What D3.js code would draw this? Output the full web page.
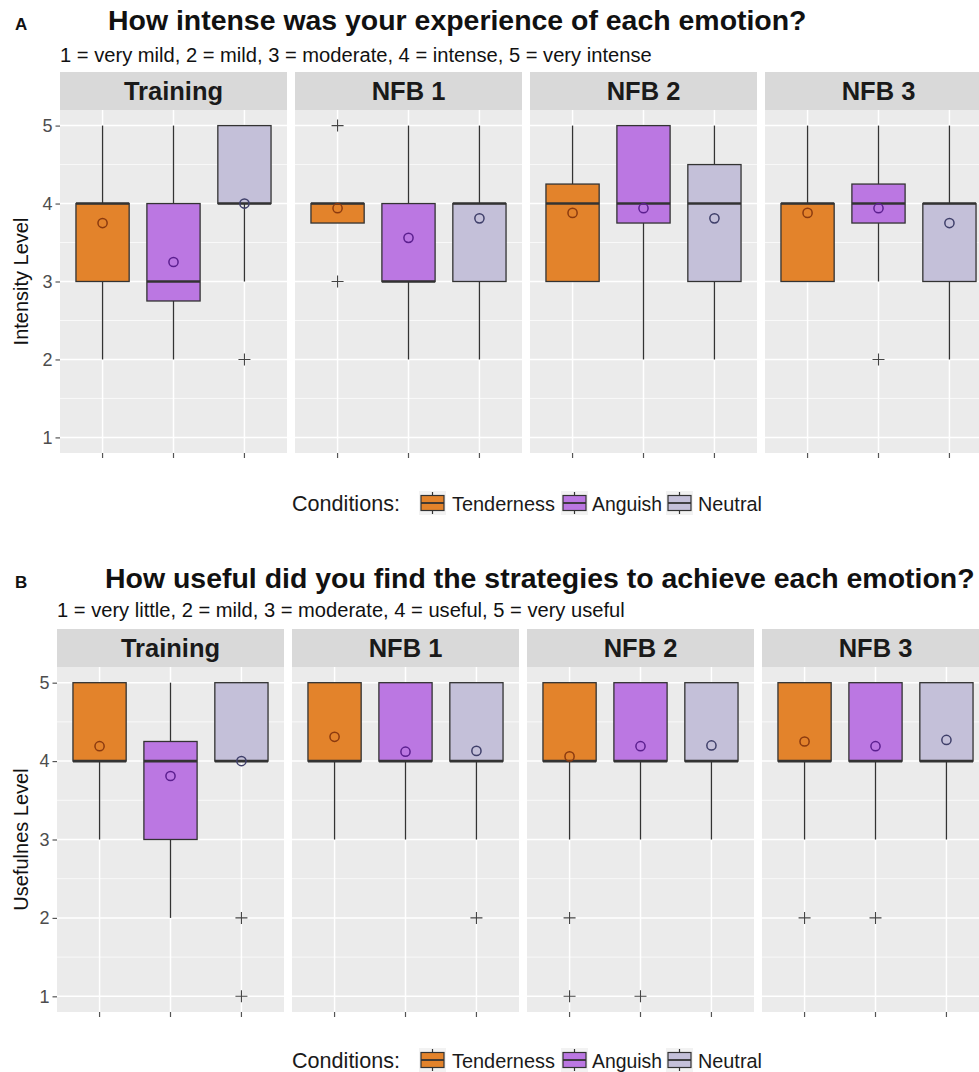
<!DOCTYPE html>
<html><head><meta charset="utf-8">
<script src="https://cdn.jsdelivr.net/npm/d3@7"></script>
<style>body{margin:0;background:#fff}svg{display:block;font-family:"Liberation Sans",Arial,Helvetica,sans-serif}</style>
</head><body><svg id="c" width="979" height="1072"></svg>
<script>
// ---------- data ----------
const sessions = ["Training", "NFB 1", "NFB 2", "NFB 3"];
const conditions = ["Tenderness", "Anguish", "Neutral"];
const yTicks = [1, 2, 3, 4, 5];

// [session][condition] = [lower whisker, Q1, median, Q3, upper whisker]
const intensityStats = [
  [[2, 3, 4, 4, 5], [2, 2.75, 3, 4, 5], [3, 4, 4, 5, 5]],
  [[3.75, 3.75, 4, 4, 4], [2, 3, 3, 4, 5], [2, 3, 4, 4, 5]],
  [[3, 3, 4, 4.25, 5], [2, 3.75, 4, 5, 5], [2, 3, 4, 4.5, 5]],
  [[3, 3, 4, 4, 5], [3, 3.75, 4, 4.25, 5], [2, 3, 4, 4, 5]]
];
const intensityMeans = [
  [3.75, 3.25, 4.0],
  [3.94, 3.56, 3.81],
  [3.88, 3.94, 3.81],
  [3.88, 3.94, 3.75]
];
const intensityOutliers = [
  [[], [], [2]],
  [[5, 3], [], []],
  [[], [], []],
  [[], [2], []]
];

const usefulStats = [
  [[3, 4, 4, 5, 5], [2, 3, 4, 4.25, 5], [4, 4, 4, 5, 5]],
  [[3, 4, 4, 5, 5], [3, 4, 4, 5, 5], [3, 4, 4, 5, 5]],
  [[3, 4, 4, 5, 5], [3, 4, 4, 5, 5], [3, 4, 4, 5, 5]],
  [[3, 4, 4, 5, 5], [3, 4, 4, 5, 5], [3, 4, 4, 5, 5]]
];
const usefulMeans = [
  [4.19, 3.81, 4.0],
  [4.31, 4.12, 4.13],
  [4.06, 4.19, 4.20],
  [4.25, 4.19, 4.27]
];
const usefulOutliers = [
  [[], [], [2, 1]],
  [[], [], [2]],
  [[2, 1], [1], []],
  [[2], [2], []]
];

// ---------- styles ----------
const fills = ["#E3832B", "#BB77E2", "#C4C0D9"];
const meanStroke = ["#8B3A0F", "#5B1F8F", "#3F3F6A"];
const outline = "#333333";

const svg = d3.select("#c");

function fitText(sel, target) {
  let fs = parseFloat(sel.attr("font-size"));
  const w = sel.node().getComputedTextLength();
  fs = fs * target / w;
  sel.attr("font-size", fs);
  return fs;
}

function drawChart(cfg) {
  const g = svg.append("g");
  g.append("text").attr("x", 15).attr("y", cfg.titleY).attr("font-size", 17)
    .attr("font-weight", "bold").attr("fill", "#111").text(cfg.letter);
  const t = g.append("text").attr("x", cfg.titleX).attr("y", cfg.titleY).attr("font-size", 28)
    .attr("font-weight", "bold").attr("fill", "#111").text(cfg.title);
  fitText(t, cfg.titleW);
  const st = g.append("text").attr("x", cfg.left).attr("y", cfg.subY).attr("font-size", 16)
    .attr("fill", "#111").text(cfg.subtitle);
  fitText(st, cfg.subW);

  const outer = d3.scaleBand().domain(sessions)
    .range([cfg.left, cfg.left + 932]).paddingInner(8 / 235);
  const y = d3.scaleLinear().domain([0.8, 5.2]).range([cfg.bottom, cfg.top]);

  // y axis
  const yAxis = d3.axisLeft(y).tickValues(yTicks).tickSize(4.5).tickPadding(3).tickFormat(d3.format("d"));
  const ya = g.append("g").attr("transform", `translate(${cfg.left},0)`).call(yAxis)
    .attr("font-size", 18).attr("font-family", null);
  ya.select(".domain").remove();
  ya.selectAll(".tick line").attr("stroke", "#555").attr("stroke-width", 1.2);
  ya.selectAll(".tick text").style("font-size", "18px").attr("fill", "#4D4D4D");

  // y title
  g.append("text").attr("transform", `translate(28,${(cfg.top + cfg.bottom) / 2}) rotate(-90)`)
    .attr("text-anchor", "middle").style("font-size", "20px").attr("fill", "#111").text(cfg.yTitle);

  sessions.forEach((s, si) => {
    const x0 = outer(s), bw = outer.bandwidth();
    const pg = g.append("g");
    pg.append("rect").attr("x", x0).attr("y", cfg.stripTop).attr("width", bw)
      .attr("height", cfg.top - cfg.stripTop).attr("fill", "#D9D9D9");
    pg.append("text").attr("x", x0 + bw / 2).attr("y", cfg.stripTop + 28)
      .attr("text-anchor", "middle").style("font-size", "25.5px").attr("font-weight", "bold")
      .attr("fill", "#1A1A1A").text(s);
    pg.append("rect").attr("x", x0).attr("y", cfg.top).attr("width", bw)
      .attr("height", cfg.bottom - cfg.top).attr("fill", "#EBEBEB");
    const x = d3.scalePoint().domain(conditions).range([x0, x0 + bw]).padding(0.6);
    const boxW = x.step() * 0.75;
    const minor = [1.5, 2.5, 3.5, 4.5];
    pg.selectAll(".mn").data(minor).enter().append("line")
      .attr("x1", x0).attr("x2", x0 + bw).attr("y1", d => y(d)).attr("y2", d => y(d))
      .attr("stroke", "#fff").attr("stroke-width", 0.7);
    pg.selectAll(".mj").data(yTicks).enter().append("line")
      .attr("x1", x0).attr("x2", x0 + bw).attr("y1", d => y(d)).attr("y2", d => y(d))
      .attr("stroke", "#fff").attr("stroke-width", 1.5);
    pg.selectAll(".vj").data(conditions).enter().append("line")
      .attr("x1", d => x(d)).attr("x2", d => x(d)).attr("y1", cfg.top).attr("y2", cfg.bottom)
      .attr("stroke", "#fff").attr("stroke-width", 1.5);
    pg.selectAll(".xt").data(conditions).enter().append("line")
      .attr("x1", d => x(d)).attr("x2", d => x(d)).attr("y1", cfg.bottom).attr("y2", cfg.bottom + 5)
      .attr("stroke", "#555").attr("stroke-width", 1.2);

    conditions.forEach((c, ci) => {
      const [lo, q1, med, q3, hi] = cfg.stats[si][ci];
      const cx = x(c);
      pg.append("line").attr("x1", cx).attr("x2", cx).attr("y1", y(hi)).attr("y2", y(q3))
        .attr("stroke", outline).attr("stroke-width", 1.3);
      pg.append("line").attr("x1", cx).attr("x2", cx).attr("y1", y(q1)).attr("y2", y(lo))
        .attr("stroke", outline).attr("stroke-width", 1.3);
      pg.append("rect").attr("x", cx - boxW / 2).attr("y", y(q3)).attr("width", boxW)
        .attr("height", y(q1) - y(q3)).attr("fill", fills[ci]).attr("stroke", outline)
        .attr("stroke-width", 1.3);
      pg.append("line").attr("x1", cx - boxW / 2).attr("x2", cx + boxW / 2)
        .attr("y1", y(med)).attr("y2", y(med)).attr("stroke", outline).attr("stroke-width", 2.6);
      cfg.outliers[si][ci].forEach(v => {
        const oy = y(v);
        pg.append("path").attr("d", `M${cx - 6},${oy}H${cx + 6}M${cx},${oy - 6}V${oy + 6}`)
          .attr("stroke", "#444").attr("stroke-width", 1.1).attr("fill", "none");
      });
      pg.append("circle").attr("cx", cx).attr("cy", y(cfg.means[si][ci])).attr("r", 4.6)
        .attr("fill", "none").attr("stroke", meanStroke[ci]).attr("stroke-width", 1.5);
    });
  });

  // legend
  const lg = g.append("g");
  const lt = lg.append("text").attr("x", 292).attr("y", cfg.legendY + 8).attr("font-size", 21)
    .attr("fill", "#1A1A1A").text("Conditions:");
  fitText(lt, 108);
  const keyX = [420, 562, 667];
  const labX = [452, 592, 698];
  const labW = [103, 70, 64];
  conditions.forEach((c, ci) => {
    const kx = keyX[ci], ky = cfg.legendY;
    lg.append("rect").attr("x", kx - 1).attr("y", ky - 12).attr("width", 27).attr("height", 24)
      .attr("fill", "#F2F2F2");
    lg.append("line").attr("x1", kx + 12.5).attr("x2", kx + 12.5).attr("y1", ky - 11).attr("y2", ky + 11)
      .attr("stroke", outline).attr("stroke-width", 1.2);
    lg.append("rect").attr("x", kx + 1).attr("y", ky - 7.5).attr("width", 23).attr("height", 15)
      .attr("fill", fills[ci]).attr("stroke", outline).attr("stroke-width", 1.2);
    lg.append("line").attr("x1", kx + 1).attr("x2", kx + 24).attr("y1", ky).attr("y2", ky)
      .attr("stroke", outline).attr("stroke-width", 1.8);
    const lb = lg.append("text").attr("x", labX[ci]).attr("y", ky + 7.5).attr("font-size", 20)
      .attr("fill", "#1A1A1A").text(c);
    fitText(lb, labW[ci]);
  });
}

drawChart({
  letter: "A", title: "How intense was your experience of each emotion?",
  subtitle: "1 = very mild, 2 = mild, 3 = moderate, 4 = intense, 5 = very intense",
  titleX: 108, titleY: 30, titleW: 699, subY: 62, subW: 592,
  left: 60, stripTop: 72, top: 110, bottom: 453,
  yTitle: "Intensity Level",
  stats: intensityStats, means: intensityMeans, outliers: intensityOutliers,
  legendY: 503
});
drawChart({
  letter: "B", title: "How useful did you find the strategies to achieve each emotion?",
  subtitle: "1 = very little, 2 = mild, 3 = moderate, 4 = useful, 5 = very useful",
  titleX: 105, titleY: 588, titleW: 870, subY: 617, subW: 568,
  left: 57, stripTop: 629, top: 667, bottom: 1012,
  yTitle: "Usefulnes Level",
  stats: usefulStats, means: usefulMeans, outliers: usefulOutliers,
  legendY: 1060
});
</script></body></html>
